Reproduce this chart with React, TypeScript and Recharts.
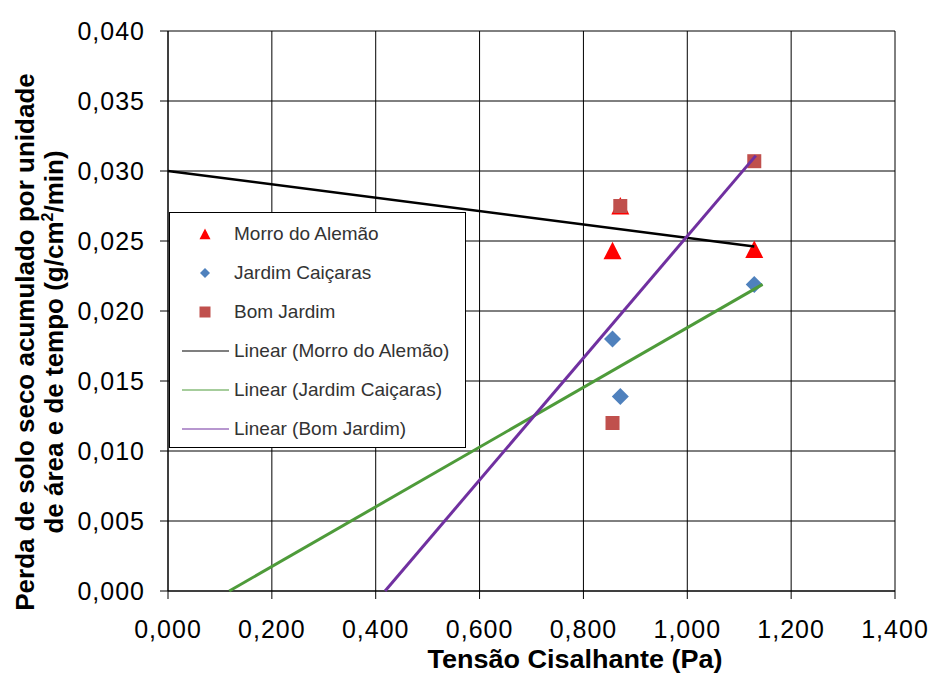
import { ScatterChart, Scatter, XAxis, YAxis, CartesianGrid, Legend, Label } from 'recharts'

// eixos
const xTicks = [0, 0.2, 0.4, 0.6, 0.8, 1.0, 1.2, 1.4]
const yTicks = [0, 0.005, 0.01, 0.015, 0.02, 0.025, 0.03, 0.035, 0.04]

// tensão cisalhante (Pa) de cada ensaio
const tensao = [0.856, 0.871, 1.129]
// perda de solo (g/cm2/min)
const morroValues = [0.0243, 0.0275, 0.0244]
const caicarasValues = [0.018, 0.0139, 0.0219]
const bomJardimValues = [0.012, 0.0275, 0.0307]

// extremos das linhas de tendência
const trendMorroX = [0, 1.129]
const trendMorroY = [0.03, 0.0246]
const trendCaicarasX = [0.118, 1.145]
const trendCaicarasY = [0, 0.0219]
const trendBomJardimX = [0.418, 1.132]
const trendBomJardimY = [0, 0.0311]

const toPoints = (xs: number[], ys: number[]) => xs.map((x, i) => ({ x, y: ys[i] }))

const RED = '#FF0000'
const BLUE = '#4F81BD'
const BROWN = '#C0504D'
const GREEN = '#4E9B3A'
const PURPLE = '#7030A0'
const FONT = '"Liberation Sans", Arial, sans-serif'

const fmt = (v: number) => v.toFixed(3).replace('.', ',')

const Triangle = ({ cx, cy, r = 9, fill }: any) => (
  <polygon points={`${cx},${cy - r} ${cx - r},${cy + r * 0.95} ${cx + r},${cy + r * 0.95}`} fill={fill} />
)
const Diamond = ({ cx, cy, r = 8.5, fill }: any) => (
  <polygon points={`${cx},${cy - r} ${cx + r},${cy} ${cx},${cy + r} ${cx - r},${cy}`} fill={fill} />
)
const Square = ({ cx, cy, r = 7, fill }: any) => (
  <rect x={cx - r} y={cy - r} width={r * 2} height={r * 2} fill={fill} />
)

const legendItems = [
  { label: 'Morro do Alemão', kind: 'tri', color: RED },
  { label: 'Jardim Caiçaras', kind: 'dia', color: BLUE },
  { label: 'Bom Jardim', kind: 'sq', color: BROWN },
  { label: 'Linear (Morro do Alemão)', kind: 'line', color: '#000000' },
  { label: 'Linear (Jardim Caiçaras)', kind: 'line', color: GREEN },
  { label: 'Linear (Bom Jardim)', kind: 'line', color: PURPLE },
]

function LegendBox() {
  return (
    <div
      style={{
        position: 'relative',
        width: 297,
        height: 236,
        boxSizing: 'border-box',
        background: '#fff',
        border: '1px solid #000',
        fontFamily: FONT,
        fontSize: 19,
        color: '#333',
      }}
    >
      {legendItems.map((item, i) => {
        const cy = 21 + i * 39
        return (
          <div key={item.label} style={{ position: 'absolute', left: 0, top: cy - 12, height: 24, width: '100%' }}>
            <svg width={64} height={24} style={{ position: 'absolute', left: 0, top: 0 }}>
              {item.kind === 'tri' && <Triangle cx={35} cy={12} r={5.5} fill={item.color} />}
              {item.kind === 'dia' && <Diamond cx={35} cy={12} r={5} fill={item.color} />}
              {item.kind === 'sq' && <Square cx={35} cy={12} r={5.5} fill={item.color} />}
              {item.kind === 'line' && <line x1={12} x2={59} y1={12} y2={12} stroke={item.color} strokeWidth={1.2} />}
            </svg>
            <span style={{ position: 'absolute', left: 64, top: 1, lineHeight: '22px', whiteSpace: 'nowrap' }}>
              {item.label}
            </span>
          </div>
        )
      })}
    </div>
  )
}

const YTitle = () => (
  <text
    transform="translate(40,342) rotate(-90)"
    textAnchor="middle"
    fontFamily={FONT}
    fontWeight="bold"
    fontSize={26}
    fill="#000"
  >
    <tspan x={0} dy={-6}>Perda de solo seco acumulado por unidade</tspan>
    <tspan x={0} dy={29}>
      de área e de tempo (g/cm<tspan fontSize={16} dy={-10}>2</tspan>
      <tspan dy={10}>/min)</tspan>
    </tspan>
  </text>
)

const XTitle = () => (
  <text
    x={575}
    y={668}
    textAnchor="middle"
    fontFamily={FONT}
    fontWeight="bold"
    fontSize={25}
    fill="#000"
    textLength={295}
    lengthAdjust="spacingAndGlyphs"
  >
    Tensão Cisalhante (Pa)
  </text>
)

const tickStyle = { fontFamily: FONT, fontSize: 25, fill: '#000', letterSpacing: 1 }

export default function App() {
  return (
    <div style={{ position: 'absolute', left: 0, top: 0, width: 931, height: 675, background: '#fff' }}>
      <ScatterChart width={931} height={675} margin={{ top: 31, right: 36, bottom: 0, left: 0 }}>
        <CartesianGrid stroke="#000" strokeWidth={1} />
        <XAxis
          type="number"
          dataKey="x"
          domain={[0, 1.4]}
          ticks={xTicks}
          tickFormatter={fmt}
          tick={tickStyle}
          tickSize={8}
          tickMargin={21}
          axisLine={{ stroke: '#000' }}
          tickLine={{ stroke: '#000' }}
          height={84}
          interval={0}
        >
          <Label content={() => <XTitle />} />
        </XAxis>
        <YAxis
          type="number"
          dataKey="y"
          domain={[0, 0.04]}
          ticks={yTicks}
          tickFormatter={fmt}
          tick={tickStyle}
          tickSize={8}
          tickMargin={15}
          axisLine={{ stroke: '#000' }}
          tickLine={{ stroke: '#000' }}
          width={168}
          interval={0}
        >
          <Label content={() => <YTitle />} />
        </YAxis>
        <Legend
          layout="vertical"
          align="center"
          verticalAlign="middle"
          width={297}
          height={236}
          wrapperStyle={{ left: 169, top: 212, width: 297, height: 236 }}
          content={() => <LegendBox />}
        />
        <Scatter
          name="Morro do Alemão"
          data={toPoints(tensao, morroValues)}
          shape={(p: any) => <Triangle cx={p.cx} cy={p.cy} fill={RED} />}
          isAnimationActive={false}
        />
        <Scatter
          name="Jardim Caiçaras"
          data={toPoints(tensao, caicarasValues)}
          shape={(p: any) => <Diamond cx={p.cx} cy={p.cy} fill={BLUE} />}
          isAnimationActive={false}
        />
        <Scatter
          name="Bom Jardim"
          data={toPoints(tensao, bomJardimValues)}
          shape={(p: any) => <Square cx={p.cx} cy={p.cy} fill={BROWN} />}
          isAnimationActive={false}
        />
        <Scatter
          name="Linear (Morro do Alemão)"
          data={toPoints(trendMorroX, trendMorroY)}
          line={{ stroke: '#000', strokeWidth: 2.5 }}
          shape={() => <g />}
          isAnimationActive={false}
        />
        <Scatter
          name="Linear (Jardim Caiçaras)"
          data={toPoints(trendCaicarasX, trendCaicarasY)}
          line={{ stroke: GREEN, strokeWidth: 3 }}
          shape={() => <g />}
          isAnimationActive={false}
        />
        <Scatter
          name="Linear (Bom Jardim)"
          data={toPoints(trendBomJardimX, trendBomJardimY)}
          line={{ stroke: PURPLE, strokeWidth: 3 }}
          shape={() => <g />}
          isAnimationActive={false}
        />
      </ScatterChart>
    </div>
  )
}
